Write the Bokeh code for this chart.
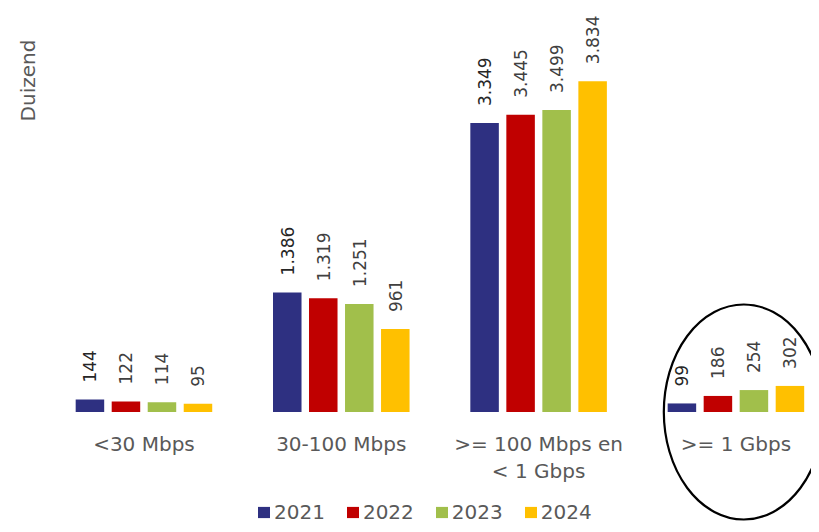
import numpy as np
from bokeh.plotting import figure
from bokeh.models import ColumnDataSource, LabelSet, Label, Range1d
from bokeh.core.properties import value
from bokeh.embed import file_html
from bokeh.resources import INLINE

# ---- data ----
categories = ["<30 Mbps", "30-100 Mbps", ">= 100 Mbps en\n< 1 Gbps", ">= 1 Gbps"]
years = ["2021", "2022", "2023", "2024"]
v2021 = [144, 1386, 3349, 99]
v2022 = [122, 1319, 3445, 186]
v2023 = [114, 1251, 3499, 254]
v2024 = [95, 961, 3834, 302]
colors = ["#2E3081", "#C00000", "#A1BF4B", "#FFC000"]
label_colors = ["#262626", "#404040", "#404040", "#404040"]
y_title = "Duizend"
highlight_group = 3

series = [v2021, v2022, v2023, v2024]
FONT_NAME = "DejaVu Sans"
FONT = value(FONT_NAME)

p = figure(width=811, height=524, output_backend="svg", toolbar_location=None,
           x_range=Range1d(-0.727, 3.383), y_range=Range1d(-1304, 4769),
           x_axis_type=None, y_axis_type=None, min_border=0)
p.outline_line_color = None
p.background_fill_color = "white"

idx = np.arange(len(categories))
step = 0.1825
bw = 0.1445

for k, (yr, vals, c, lc) in enumerate(zip(years, series, colors, label_colors)):
    off = (k - 1.5) * step
    src = ColumnDataSource(dict(
        x=idx + off, top=vals,
        label=[f"{v:,}".replace(",", ".") for v in vals]))
    p.vbar(x="x", top="top", bottom=0, width=bw, source=src,
           fill_color=c, line_color=None, legend_label=yr)
    p.add_layout(LabelSet(x="x", y="top", text="label", source=src,
                          angle=np.pi / 2, text_align="left", text_baseline="middle",
                          y_offset=17, text_font=FONT, text_font_size="17px",
                          text_color=lc))

# category labels (each line centred separately)
lines = [c.split("\n") for c in categories]
line1 = [l[0] for l in lines]
line2 = [l[1] if len(l) > 1 else "" for l in lines]
cat_src = ColumnDataSource(dict(x=idx, y=[0] * len(idx), t1=line1, t2=line2))
for col, off in (("t1", -20), ("t2", -47)):
    p.add_layout(LabelSet(x="x", y="y", text=col, source=cat_src,
                          text_align="center", text_baseline="top", y_offset=off,
                          text_font=FONT, text_font_size="20px", text_color="#595959"))

# highlight ellipse around the last group
p.ellipse(x=[idx[highlight_group] + 0.04], y=[0], width=160, height=215,
          width_units="screen", height_units="screen",
          fill_color=None, line_color="black", line_width=2.2)

p.add_layout(Label(x=27, y=444, x_units="screen", y_units="screen", text=y_title,
                   angle=np.pi / 2, text_align="center", text_baseline="middle",
                   text_font=FONT_NAME, text_font_size="20px", text_color="#595959"))

lg = p.legend[0]
lg.location = (256, 0)
lg.orientation = "horizontal"
lg.padding = 0
lg.margin = 0
lg.border_line_color = None
lg.background_fill_alpha = 0
lg.glyph_width = 15
lg.glyph_height = 14
lg.label_standoff = 3
lg.spacing = 20
lg.label_text_font = FONT_NAME
lg.label_text_font_size = "20px"
lg.label_text_color = "#595959"

open("out.html", "w").write(file_html(p, INLINE))
